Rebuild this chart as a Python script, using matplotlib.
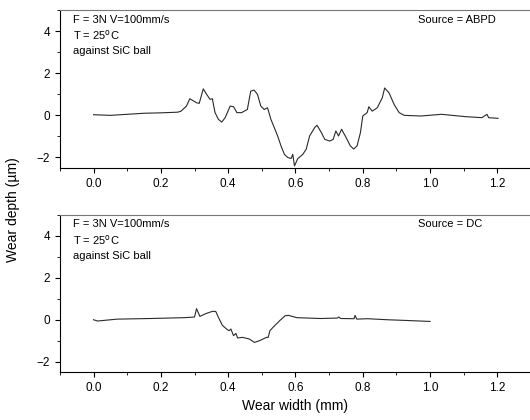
import matplotlib
matplotlib.use("Agg")
import matplotlib.pyplot as plt
from matplotlib.ticker import MultipleLocator

plt.rcParams['font.family'] = ['Liberation Sans', 'DejaVu Sans']

# ABPD wear profile (mm, um)
abpd_x = [0.0, 0.05, 0.10, 0.15, 0.20, 0.25, 0.26, 0.276, 0.286, 0.306, 0.314, 0.326, 0.336,
          0.346, 0.353, 0.361, 0.371, 0.381, 0.391, 0.406, 0.416, 0.426, 0.44, 0.457,
          0.467, 0.477, 0.487, 0.497, 0.507, 0.517, 0.527, 0.537, 0.547, 0.557, 0.567,
          0.577, 0.587, 0.592, 0.597, 0.607, 0.622, 0.632, 0.642, 0.657, 0.664, 0.677,
          0.687, 0.702, 0.712, 0.72, 0.728, 0.737, 0.748, 0.763, 0.773, 0.783, 0.793,
          0.80, 0.813, 0.818, 0.828, 0.843, 0.858, 0.865, 0.878, 0.893, 0.908, 0.923,
          0.973, 1.034, 1.104, 1.154, 1.169, 1.174, 1.202]
abpd_y = [0.03, 0.0, 0.05, 0.1, 0.12, 0.15, 0.2, 0.44, 0.79, 0.6, 0.57, 1.26, 1.0,
          0.76, 0.79, 0.13, -0.19, -0.32, -0.11, 0.44, 0.41, 0.13, 0.13, 0.28,
          1.15, 1.2, 1.0, 0.44, 0.28, 0.36, -0.19, -0.58, -0.98, -1.45, -1.85,
          -2.0, -2.05, -1.85, -2.4, -2.05, -1.85, -1.6, -0.98, -0.58, -0.47, -0.82,
          -1.14, -1.22, -1.14, -0.74, -0.98, -0.66, -0.98, -1.45, -1.6, -1.45, -0.82,
          -0.03, 0.13, 0.41, 0.2, 0.36, 0.84, 1.3, 1.07, 0.52, 0.13, 0.0,
          -0.03, 0.05, -0.06, -0.11, 0.05, -0.11, -0.14]

# DC wear profile (mm, um)
dc_x = [0.0, 0.012, 0.07, 0.17, 0.27, 0.30, 0.306, 0.316, 0.333, 0.353, 0.363, 0.373,
        0.383, 0.398, 0.403, 0.408, 0.416, 0.423, 0.428, 0.443, 0.463, 0.478, 0.493,
        0.514, 0.519, 0.524, 0.534, 0.554, 0.569, 0.579, 0.604, 0.674, 0.724, 0.729,
        0.734, 0.774, 0.777, 0.782, 0.814, 0.874, 0.924, 1.0]
dc_y = [0.0, -0.06, 0.03, 0.06, 0.1, 0.13, 0.53, 0.16, 0.29, 0.4, 0.4, 0.05,
        -0.27, -0.48, -0.52, -0.44, -0.76, -0.65, -0.87, -0.84, -0.92, -1.08, -1.0,
        -0.84, -0.84, -0.52, -0.35, -0.03, 0.19, 0.21, 0.1, 0.06, 0.08, 0.13,
        0.06, 0.05, 0.21, 0.03, 0.05, 0.0, -0.03, -0.08]

profiles = [(abpd_x, abpd_y, "Source = ABPD"), (dc_x, dc_y, "Source = DC")]
conditions = ["F = 3N V=100mm/s", "T = 25$^{\\rm o}$C", "against SiC ball"]

fig = plt.figure(figsize=(5.3, 4.2), dpi=100)
axes = [fig.add_axes([0.113, 0.600, 0.889, 0.376]),
        fig.add_axes([0.113, 0.114, 0.889, 0.374])]

for ax, (x, y, source) in zip(axes, profiles):
    ax.plot(x, y, color='#2a2a2a', lw=0.8)
    ax.set_xlim(-0.1, 1.3)
    ax.set_ylim(-2.5, 5)
    ax.xaxis.set_major_locator(MultipleLocator(0.2))
    ax.xaxis.set_minor_locator(MultipleLocator(0.1))
    ax.yaxis.set_major_locator(MultipleLocator(2))
    ax.yaxis.set_minor_locator(MultipleLocator(1))
    ax.tick_params(direction='out', labelsize=8.5, length=3.5, width=0.8)
    ax.tick_params(which='minor', direction='out', length=2, width=0.6)
    ax.xaxis.set_major_formatter(plt.FuncFormatter(lambda v, p: "%.1f" % v))
    ax.spines['top'].set_color('#777777')
    ax.spines['right'].set_visible(False)
    for i, t in enumerate(conditions):
        ax.text(0.028, 0.94 - i * 0.1, t, transform=ax.transAxes, fontsize=8, va='center')
    ax.text(0.759, 0.94, source, transform=ax.transAxes, fontsize=8, va='center')

axes[1].set_xlabel("Wear width (mm)", fontsize=10)
fig.text(0.025, 0.5, "Wear depth (\u00b5m)", rotation=90, va='center', ha='center', fontsize=10)

fig.savefig("out.png", dpi=100)
